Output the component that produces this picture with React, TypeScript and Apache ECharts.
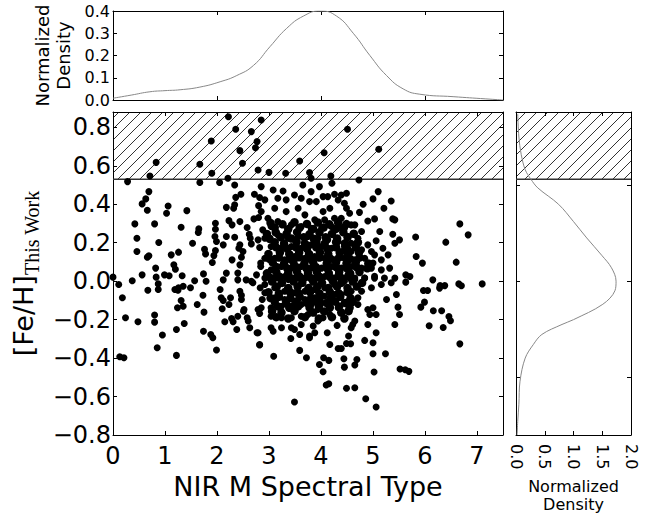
import React, { useEffect, useRef } from 'react';
import * as echarts from 'echarts';

// ---- data ----
// top marginal: normalized density vs NIR M spectral type
const topDensity: [number, number][] = [
  [0, 0.008], [0.35, 0.022], [0.71, 0.037], [1.0, 0.042], [1.29, 0.046], [1.67, 0.058],
  [2.06, 0.082], [2.38, 0.11], [2.7, 0.155], [3.02, 0.24], [3.34, 0.322], [3.66, 0.377],
  [3.98, 0.4], [4.3, 0.377], [4.62, 0.3], [4.94, 0.2], [5.26, 0.11], [5.58, 0.05],
  [5.9, 0.026], [6.54, 0.015], [7.17, 0.005], [7.5, 0.0],
];
// right marginal: [density, [Fe/H]]
const rightDensity: [number, number][] = [
  [0.03, 0.87], [0.05, 0.75], [0.09, 0.66], [0.16, 0.58], [0.26, 0.53], [0.38, 0.485],
  [0.74, 0.4], [1.0, 0.31], [1.23, 0.225], [1.49, 0.135], [1.66, 0.07], [1.74, 0.0],
  [1.72, -0.05], [1.51, -0.12], [1.0, -0.2], [0.8, -0.225], [0.45, -0.277], [0.3, -0.33],
  [0.16, -0.4], [0.07, -0.52], [0.05, -0.64], [0.03, -0.73], [0.02, -0.8],
];
// hatched (excluded) range of [Fe/H]
const hatchRange: [number, number] = [0.53, 0.88];

// scatter: [NIR M spectral type, [Fe/H]]
const hatchPoints: [number, number][] = [
  [2.22, 0.855], [2.85, 0.838], [2.36, 0.79], [2.66, 0.778], [1.89, 0.729], [2.77, 0.726], [2.44, 0.679],
  [2.74, 0.694], [0.83, 0.618], [1.67, 0.608], [2.49, 0.613], [2.79, 0.578], [1.9, 0.561], [0.71, 0.547],
  [2.21, 0.535], [4.51, 0.79], [4.06, 0.668], [5.11, 0.686], [3.59, 0.625], [3.0, 0.566], [3.32, 0.561],
  [3.78, 0.565], [3.81, 0.535], [4.19, 0.547],
];
const leftPoints: [number, number][] = [
  [0.28, 0.518], [1.67, 0.513], [2.05, 0.513], [2.34, 0.5], [2.85, 0.492], [0.69, 0.466], [2.46, 0.452],
  [2.36, 0.436], [2.72, 0.452], [0.63, 0.428], [0.56, 0.402], [2.82, 0.435], [1.06, 0.391], [0.66, 0.369],
  [1.03, 0.353], [1.42, 0.367], [2.18, 0.384], [2.34, 0.397], [2.32, 0.379], [2.8, 0.393], [2.85, 0.362],
  [0.42, 0.298], [0.8, 0.298], [1.31, 0.281], [1.97, 0.301], [2.23, 0.315], [2.44, 0.31], [2.29, 0.293],
  [2.71, 0.324], [2.8, 0.331], [2.58, 0.279], [1.65, 0.272], [1.64, 0.253], [1.97, 0.27], [1.96, 0.232],
  [2.18, 0.232], [2.34, 0.229], [2.62, 0.244], [0.46, 0.223], [0.88, 0.201], [1.53, 0.197], [1.99, 0.206],
  [2.12, 0.189], [2.44, 0.189], [2.66, 0.194], [2.64, 0.223], [2.42, 0.171], [1.76, 0.166], [1.78, 0.142],
  [2.82, 0.175], [0.46, 0.154], [0.69, 0.132], [0.66, 0.125], [1.12, 0.137], [1.26, 0.151], [1.97, 0.159],
  [1.94, 0.133], [2.5, 0.154], [2.47, 0.125], [2.29, 0.111], [1.17, 0.085], [1.2, 0.062], [0.82, 0.068],
  [1.91, 0.097], [2.44, 0.085], [2.84, 0.094], [2.84, 0.076], [0.0, 0.021], [0.56, 0.033], [0.83, 0.021],
  [0.99, 0.033], [1.08, 0.028], [1.33, 0.028], [1.74, 0.038], [2.18, 0.042], [2.4, 0.042], [2.76, 0.033],
  [0.37, 0.002], [1.57, 0.002], [2.12, 0.007], [2.4, 0.007], [2.56, 0.007],
  [0.11, -0.017], [0.87, -0.014], [0.67, -0.047], [0.87, -0.043], [1.19, -0.043], [1.26, -0.034],
  [1.35, -0.026], [1.25, -0.047], [1.49, -0.034], [1.79, 0.0], [2.69, -0.008], [2.66, 0.0], [2.83, -0.034],
  [0.18, -0.086], [1.31, -0.1], [1.24, -0.138], [1.35, -0.13], [1.62, -0.121], [1.73, -0.073],
  [2.06, -0.043], [2.08, -0.086], [2.12, -0.1], [2.26, -0.086], [2.23, -0.121], [2.44, -0.052],
  [2.47, -0.073], [2.47, -0.095], [2.1, -0.143], [2.52, -0.147], [2.51, -0.156], [2.79, -0.147],
  [2.82, -0.168], [2.87, -0.095], [0.24, -0.19], [0.48, -0.211], [0.8, -0.176], [0.8, -0.213],
  [1.37, -0.22], [1.22, -0.251], [1.75, -0.161], [1.74, -0.26], [2.15, -0.211], [2.28, -0.194],
  [2.31, -0.211], [2.4, -0.182], [2.38, -0.251], [2.58, -0.19], [2.6, -0.207], [2.63, -0.242],
  [0.95, -0.28], [0.85, -0.346], [1.88, -0.277], [1.92, -0.294], [1.22, -0.386], [1.99, -0.358],
  [2.77, -0.268], [2.82, -0.332], [0.13, -0.393], [0.21, -0.398],
];
const corePoints: [number, number][] = [
  [4.73, 0.526], [4.21, 0.509], [5.1, 0.466], [5.35, 0.417], [5.21, 0.379], [5.0, 0.428], [4.81, 0.4],
  [4.49, 0.457], [4.39, 0.448], [4.33, 0.422], [4.45, 0.405], [4.49, 0.379], [4.55, 0.353], [4.74, 0.358],
  [4.9, 0.313], [5.38, 0.324], [5.42, 0.319], [5.03, 0.324], [5.13, 0.258], [5.38, 0.244], [5.51, 0.215],
  [5.42, 0.197], [5.06, 0.21], [4.78, 0.258], [4.65, 0.293], [4.71, 0.223], [4.58, 0.197], [4.45, 0.18],
  [4.9, 0.189], [5.19, 0.171], [5.29, 0.137], [5.16, 0.111], [5.32, 0.068], [5.0, 0.094],
  [3.08, 0.474], [3.27, 0.469], [3.49, 0.448], [3.65, 0.5], [3.81, 0.466], [4.04, 0.44], [4.13, 0.44],
  [4.26, 0.452], [3.97, 0.492], [2.92, 0.423], [3.17, 0.431], [3.33, 0.423], [3.62, 0.431], [3.78, 0.414],
  [3.91, 0.414], [4.17, 0.379], [4.04, 0.362], [3.11, 0.379], [2.98, 0.327], [3.17, 0.31], [3.33, 0.362],
  [3.56, 0.379], [3.69, 0.345], [3.88, 0.319], [4.07, 0.319], [4.26, 0.327], [4.39, 0.327], [2.88, 0.267],
  [3.04, 0.284], [3.43, 0.293], [3.62, 0.284], [3.81, 0.275], [4.01, 0.275], [4.2, 0.284], [4.39, 0.275],
  [4.58, 0.293], [2.79, 0.215], [2.92, 0.223], [3.17, 0.241], [3.37, 0.223], [3.56, 0.232], [3.75, 0.232],
  [3.94, 0.223], [4.13, 0.215], [4.33, 0.206], [4.52, 0.232], [3.04, 0.18], [3.24, 0.171], [3.43, 0.18],
  [3.62, 0.171], [3.81, 0.189], [4.01, 0.18], [4.2, 0.171], [4.39, 0.154], [4.58, 0.154], [4.78, 0.163],
  [4.97, 0.154], [2.92, 0.119], [3.11, 0.119], [3.3, 0.111], [3.49, 0.128], [3.69, 0.119], [3.88, 0.128],
  [4.07, 0.119], [4.26, 0.111], [4.45, 0.119], [4.65, 0.111], [4.84, 0.119], [5.03, 0.137], [3.04, 0.059],
  [3.24, 0.076], [3.43, 0.068], [3.62, 0.076], [3.81, 0.068], [4.01, 0.068], [4.2, 0.076], [4.39, 0.068],
  [4.58, 0.076], [4.78, 0.068], [4.97, 0.068], [5.16, 0.059], [2.92, 0.016], [3.11, 0.016], [3.3, 0.024],
  [3.49, 0.016], [3.69, 0.016], [3.88, 0.016], [4.07, 0.024], [4.26, 0.016], [4.45, 0.016], [4.65, 0.016],
  [4.84, 0.016], [5.03, 0.016], [5.22, 0.016], [5.42, 0.016],
  [5.42, -0.225], [5.51, -0.173], [5.48, -0.135], [5.26, -0.095], [5.45, -0.069], [5.06, -0.268],
  [5.0, -0.32], [5.24, -0.377], [5.0, -0.377], [5.02, -0.472], [4.84, -0.308], [4.86, -0.611],
  [5.06, -0.654], [4.65, -0.554], [4.49, -0.557], [4.15, -0.533], [4.1, -0.54], [4.45, -0.447],
  [4.65, -0.436], [4.69, -0.407], [4.44, -0.403], [4.04, -0.471], [3.97, -0.433], [4.05, -0.398],
  [4.15, -0.412], [4.33, -0.35], [4.39, -0.35], [4.49, -0.324], [4.57, -0.325], [4.53, -0.285],
  [4.58, -0.242], [4.65, -0.207], [4.61, -0.225], [4.17, -0.329], [4.12, -0.268], [4.31, -0.23],
  [3.59, -0.36], [3.72, -0.398], [3.09, -0.39], [3.49, -0.628], [2.82, -0.329], [2.79, -0.268],
  [3.42, -0.298], [3.59, -0.277], [3.78, -0.294], [3.08, -0.26], [3.24, -0.242], [3.04, -0.242],
  [3.43, -0.242], [3.49, -0.251], [3.62, -0.225], [3.85, -0.233], [3.94, -0.207], [3.78, -0.285],
  [3.88, -0.268], [4.9, -0.225], [4.94, -0.173], [5.06, -0.173], [4.9, -0.147], [5.0, -0.138],
  [4.71, -0.121], [4.52, -0.104], [4.33, -0.138], [4.17, -0.173], [4.04, -0.19], [3.94, -0.147],
  [3.75, -0.173], [3.62, -0.182], [3.43, -0.19], [3.24, -0.19], [3.04, -0.182], [2.85, -0.138],
  [3.04, -0.138], [3.24, -0.13], [3.43, -0.13], [3.62, -0.121], [3.81, -0.121], [4.01, -0.112],
  [4.2, -0.104], [4.39, -0.069], [4.58, -0.052], [4.78, -0.052], [4.97, -0.034], [5.16, -0.017],
  [5.35, -0.008], [2.92, -0.017], [3.11, -0.034], [3.3, -0.052], [3.49, -0.06], [3.69, -0.052],
  [3.88, -0.043], [4.07, -0.034], [4.26, -0.017], [4.45, 0.0], [4.65, 0.009], [4.84, 0.017], [5.03, 0.026],
  [2.98, 0.026], [3.17, 0.017], [3.37, 0.009], [3.56, 0.017], [3.75, 0.026], [3.94, 0.017], [4.13, 0.026],
  [4.33, 0.035], [4.52, 0.035], [2.92, -0.06], [3.11, -0.086], [3.3, -0.095], [3.49, -0.104],
  [3.69, -0.095], [3.88, -0.086], [4.07, -0.078], [4.26, -0.069], [4.71, -0.086],
];
// the nearly solid black blob at the centre of the distribution
const coreFillPoints: [number, number][] = [
  [3.03, 0.303], [3.26, 0.296], [3.49, 0.307], [3.73, 0.298], [3.94, 0.305], [4.16, 0.296], [4.33, 0.304], [4.49, 0.297],
  [2.96, 0.246], [3.13, 0.254], [3.34, 0.247], [3.54, 0.255], [3.78, 0.245], [3.97, 0.253], [4.21, 0.246], [4.43, 0.254], [4.63, 0.247],
  [3.11, 0.203], [3.29, 0.196], [3.53, 0.204], [3.69, 0.197], [3.91, 0.205], [4.07, 0.195], [4.29, 0.203], [4.46, 0.197], [4.71, 0.202],
  [2.99, 0.142], [3.21, 0.149], [3.39, 0.141], [3.58, 0.148], [3.77, 0.142], [3.98, 0.149], [4.14, 0.141], [4.36, 0.148], [4.51, 0.142], [4.73, 0.148],
  [3.07, 0.098], [3.29, 0.091], [3.47, 0.099], [3.68, 0.092], [3.85, 0.098], [4.11, 0.091], [4.29, 0.099], [4.49, 0.092], [4.67, 0.098], [4.91, 0.092],
  [2.96, 0.041], [3.14, 0.048], [3.37, 0.042], [3.54, 0.049], [3.75, 0.041], [3.92, 0.048], [4.15, 0.042], [4.35, 0.049], [4.56, 0.041], [4.74, 0.048],
  [3.06, -0.002], [3.25, -0.009], [3.47, -0.001], [3.64, -0.008], [3.85, -0.002], [4.02, -0.009], [4.23, -0.001], [4.39, -0.008], [4.61, -0.002], [4.79, -0.009],
  [2.99, -0.057], [3.19, -0.064], [3.4, -0.056], [3.57, -0.063], [3.79, -0.057], [3.97, -0.064], [4.17, -0.056], [4.34, -0.063], [4.51, -0.057],
  [3.11, -0.107], [3.33, -0.114], [3.53, -0.106], [3.73, -0.113], [3.91, -0.107], [4.11, -0.114], [4.27, -0.106], [4.46, -0.113], [4.61, -0.107],
  [3.06, -0.157], [3.24, -0.163], [3.49, -0.156], [3.85, -0.163], [4.06, -0.157], [4.39, -0.163], [4.53, -0.156],
  [3.11, 0.279], [3.37, 0.271], [3.59, 0.278], [3.85, 0.272], [4.05, 0.279], [4.28, 0.271], [4.44, 0.278],
  [3.01, 0.221], [3.23, 0.228], [3.43, 0.222], [3.67, 0.229], [3.86, 0.221], [4.09, 0.228], [4.31, 0.222], [4.51, 0.229],
  [3.14, 0.176], [3.35, 0.169], [3.52, 0.176], [3.73, 0.169], [3.91, 0.176], [4.12, 0.169], [4.29, 0.176], [4.5, 0.169], [4.67, 0.176],
  [3.01, 0.116], [3.19, 0.123], [3.4, 0.117], [3.58, 0.124], [3.79, 0.116], [3.97, 0.123], [4.18, 0.117], [4.35, 0.124], [4.56, 0.116], [4.74, 0.123],
  [3.14, 0.074], [3.35, 0.067], [3.52, 0.074], [3.72, 0.067], [3.9, 0.074], [4.12, 0.067], [4.29, 0.074], [4.5, 0.067], [4.68, 0.074], [4.89, 0.067],
  [3.03, 0.017], [3.2, 0.024], [3.41, 0.017], [3.59, 0.024], [3.8, 0.017], [3.97, 0.024], [4.19, 0.017], [4.36, 0.024], [4.57, 0.017],
  [3.15, -0.028], [3.37, -0.035], [3.55, -0.028], [3.76, -0.035], [3.93, -0.028], [4.14, -0.035], [4.31, -0.028], [4.51, -0.035], [4.69, -0.028],
  [3.03, -0.088], [3.19, -0.081], [3.41, -0.088], [3.59, -0.081], [3.81, -0.088], [3.98, -0.081], [4.19, -0.088], [4.37, -0.081], [4.57, -0.088],
  [3.17, -0.131], [3.39, -0.138], [3.56, -0.131], [3.78, -0.138], [3.96, -0.131], [4.17, -0.138], [4.35, -0.131], [4.55, -0.138],
  [3.14, -0.187], [3.37, -0.194], [3.69, -0.187], [3.96, -0.194], [4.21, -0.187], [4.45, -0.194],
];
const rightPoints: [number, number][] = [
  [6.67, 0.298], [6.83, 0.241], [6.4, 0.203], [5.82, 0.23], [5.83, 0.128], [5.95, 0.094], [6.6, 0.099],
  [5.63, 0.033], [5.71, 0.024], [5.63, -0.005], [6.15, 0.007], [6.29, -0.023], [6.38, -0.023], [6.28, -0.036],
  [6.65, -0.014], [6.7, -0.024], [7.1, -0.014], [5.97, -0.048], [6.05, -0.048], [5.99, -0.109], [5.92, -0.135],
  [6.16, -0.154], [6.32, -0.154], [6.46, -0.184], [6.49, -0.206], [6.08, -0.232], [6.35, -0.241], [6.67, -0.326],
  [5.52, -0.457], [5.62, -0.461], [5.69, -0.469],
];

const FONT = 'DejaVu Sans';
const minusFmt = (step: number) => (v: number) => {
  const k = v / step;
  if (Math.abs(k - Math.round(k)) > 1e-6) return '';
  const s = Math.abs(v).toFixed(1);
  return (v < -1e-9 ? '\u2212' : '') + s;
};
const intFmt = (v: number) => (Math.abs(v - Math.round(v)) > 1e-6 ? '' : String(Math.round(v)));

const axisLine = { show: true, onZero: false, lineStyle: { color: '#000', width: 1 } };
const tickIn = { show: true, inside: true, length: 4, lineStyle: { color: '#000', width: 1 } };

function hatchRenderer(spacing: number) {
  return (params: any, api: any) => {
    const cs = params.coordSys;
    const yTop = api.coord([api.value(0), api.value(2)])[1];
    const yBot = api.coord([api.value(0), api.value(1)])[1];
    const x0 = cs.x;
    const x1 = cs.x + cs.width;
    const y0 = Math.max(cs.y, yTop);
    const y1 = yBot;
    const children: any[] = [];
    const start = Math.floor((x0 + y0) / spacing) * spacing;
    for (let c = start; c <= x1 + y1; c += spacing) {
      const xs = Math.max(x0, c - y1);
      const xe = Math.min(x1, c - y0);
      if (xe <= xs) continue;
      children.push({
        type: 'line',
        shape: { x1: xs, y1: c - xs, x2: xe, y2: c - xe },
        style: { stroke: '#000', lineWidth: 0.8 },
        silent: true,
      });
    }
    children.push({
      type: 'line',
      shape: { x1: x0, y1: y1, x2: x1, y2: y1 },
      style: { stroke: '#333', lineWidth: 1.6 },
      silent: true,
    });
    return { type: 'group', children };
  };
}

export default function App() {
  const ref = useRef<HTMLDivElement>(null);
  useEffect(() => {
    if (!ref.current) return;
    const chart = echarts.init(ref.current, null, { renderer: 'svg' });
    const sparsePoints = [...hatchPoints, ...leftPoints, ...corePoints, ...rightPoints];
    const grids = [
      { left: 113, top: 11, width: 390, height: 89, outerBoundsMode: 'none' },
      { left: 113, top: 112, width: 390, height: 323, outerBoundsMode: 'none' },
      { left: 516, top: 112, width: 115, height: 323, outerBoundsMode: 'none' },
    ];
    const option: any = {
      animation: false,
      backgroundColor: '#fff',
      textStyle: { fontFamily: FONT, color: '#000' },
      grid: grids,
      xAxis: [
        { type: 'value', gridIndex: 0, position: 'bottom', min: 0, max: 7.5, interval: 2,
          axisLine, axisTick: tickIn, axisLabel: { show: false }, splitLine: { show: false } },
        { type: 'value', gridIndex: 0, position: 'top', min: 0, max: 7.5, interval: 2,
          axisLine, axisTick: tickIn, axisLabel: { show: false }, splitLine: { show: false } },
        { type: 'value', gridIndex: 1, position: 'bottom', min: 0, max: 7.5, interval: 1,
          axisLine, axisTick: tickIn, splitLine: { show: false },
          axisLabel: { formatter: intFmt, fontSize: 24, color: '#000', fontFamily: FONT, margin: 9 },
          name: 'NIR M Spectral Type', nameLocation: 'middle', nameGap: 31,
          nameTextStyle: { fontSize: 27, color: '#000', fontFamily: FONT } },
        { type: 'value', gridIndex: 1, position: 'top', min: 0, max: 7.5, interval: 1,
          axisLine, axisTick: tickIn, axisLabel: { show: false }, splitLine: { show: false } },
        { type: 'value', gridIndex: 2, position: 'bottom', min: 0, max: 2, interval: 0.5,
          axisLine, axisTick: tickIn, splitLine: { show: false },
          axisLabel: { formatter: minusFmt(0.5), rotate: -90, fontSize: 16, color: '#000', fontFamily: FONT, margin: 9 },
          name: 'Normalized\nDensity', nameLocation: 'middle', nameGap: 31,
          nameTextStyle: { fontSize: 16, lineHeight: 18, color: '#000', fontFamily: FONT } },
        { type: 'value', gridIndex: 2, position: 'top', min: 0, max: 2, interval: 0.5,
          axisLine, axisTick: tickIn, axisLabel: { show: false }, splitLine: { show: false } },
      ],
      yAxis: [
        { type: 'value', gridIndex: 0, position: 'left', min: 0, max: 0.4, interval: 0.1,
          axisLine, axisTick: tickIn, splitLine: { show: false },
          axisLabel: { formatter: minusFmt(0.1), fontSize: 16, color: '#000', fontFamily: FONT, margin: 3 },
          name: 'Normalized\nDensity', nameLocation: 'middle', nameRotate: 90, nameGap: 36,
          nameTextStyle: { fontSize: 18, lineHeight: 21, color: '#000', fontFamily: FONT } },
        { type: 'value', gridIndex: 0, position: 'right', min: 0, max: 0.4, interval: 0.1,
          axisLine, axisTick: tickIn, axisLabel: { show: false }, splitLine: { show: false } },
        { type: 'value', gridIndex: 1, position: 'left', min: -0.8, max: 0.88, interval: 0.2,
          axisLine, axisTick: tickIn, splitLine: { show: false },
          axisLabel: { formatter: minusFmt(0.2), fontSize: 24, color: '#000', fontFamily: FONT, margin: 2 },
          name: '{a|[Fe/H]}{b|This Work}', nameLocation: 'middle', nameRotate: 90, nameGap: 70,
          nameTextStyle: {
            rich: {
              a: { fontSize: 27, fontFamily: FONT, color: '#000', verticalAlign: 'bottom', padding: [0, 0, 5, 0] },
              b: { fontSize: 20, fontFamily: 'Liberation Serif', color: '#000', verticalAlign: 'bottom' },
            },
          } },
        { type: 'value', gridIndex: 1, position: 'right', min: -0.8, max: 0.88, interval: 0.2,
          axisLine, axisTick: tickIn, axisLabel: { show: false }, splitLine: { show: false } },
        { type: 'value', gridIndex: 2, position: 'left', min: -0.8, max: 0.88,
          axisLine, axisTick: { ...tickIn, customValues: [-0.5, 0, 0.5] },
          axisLabel: { show: false }, splitLine: { show: false } },
        { type: 'value', gridIndex: 2, position: 'right', min: -0.8, max: 0.88,
          axisLine, axisTick: { ...tickIn, customValues: [-0.5, 0, 0.5] },
          axisLabel: { show: false }, splitLine: { show: false } },
      ],
      series: [
        { type: 'line', xAxisIndex: 0, yAxisIndex: 0, data: topDensity, smooth: 0.5,
          showSymbol: false, lineStyle: { color: '#888', width: 1 }, silent: true },
        { type: 'custom', xAxisIndex: 2, yAxisIndex: 2, data: [[0, hatchRange[0], hatchRange[1]]],
          renderItem: hatchRenderer(11), z: 1, silent: true },
        { type: 'scatter', xAxisIndex: 2, yAxisIndex: 2, data: sparsePoints, symbol: 'circle', symbolSize: 7,
          itemStyle: { color: '#000', opacity: 1 }, z: 3, silent: true },
        { type: 'scatter', xAxisIndex: 2, yAxisIndex: 2, data: coreFillPoints, symbol: 'circle', symbolSize: 8.5,
          itemStyle: { color: '#000', opacity: 1 }, z: 3, silent: true },
        { type: 'custom', xAxisIndex: 4, yAxisIndex: 4, data: [[0, hatchRange[0], hatchRange[1]]],
          renderItem: hatchRenderer(11), z: 1, silent: true },
        { type: 'line', xAxisIndex: 4, yAxisIndex: 4, data: rightDensity, smooth: 0.35,
          showSymbol: false, lineStyle: { color: '#888', width: 1 }, z: 3, silent: true },
      ],
    };
    chart.setOption(option);
    return () => chart.dispose();
  }, []);
  return (
    <div
      ref={ref}
      style={{ position: 'fixed', left: 0, top: 0, width: 657, height: 513, background: '#fff' }}
    />
  );
}
